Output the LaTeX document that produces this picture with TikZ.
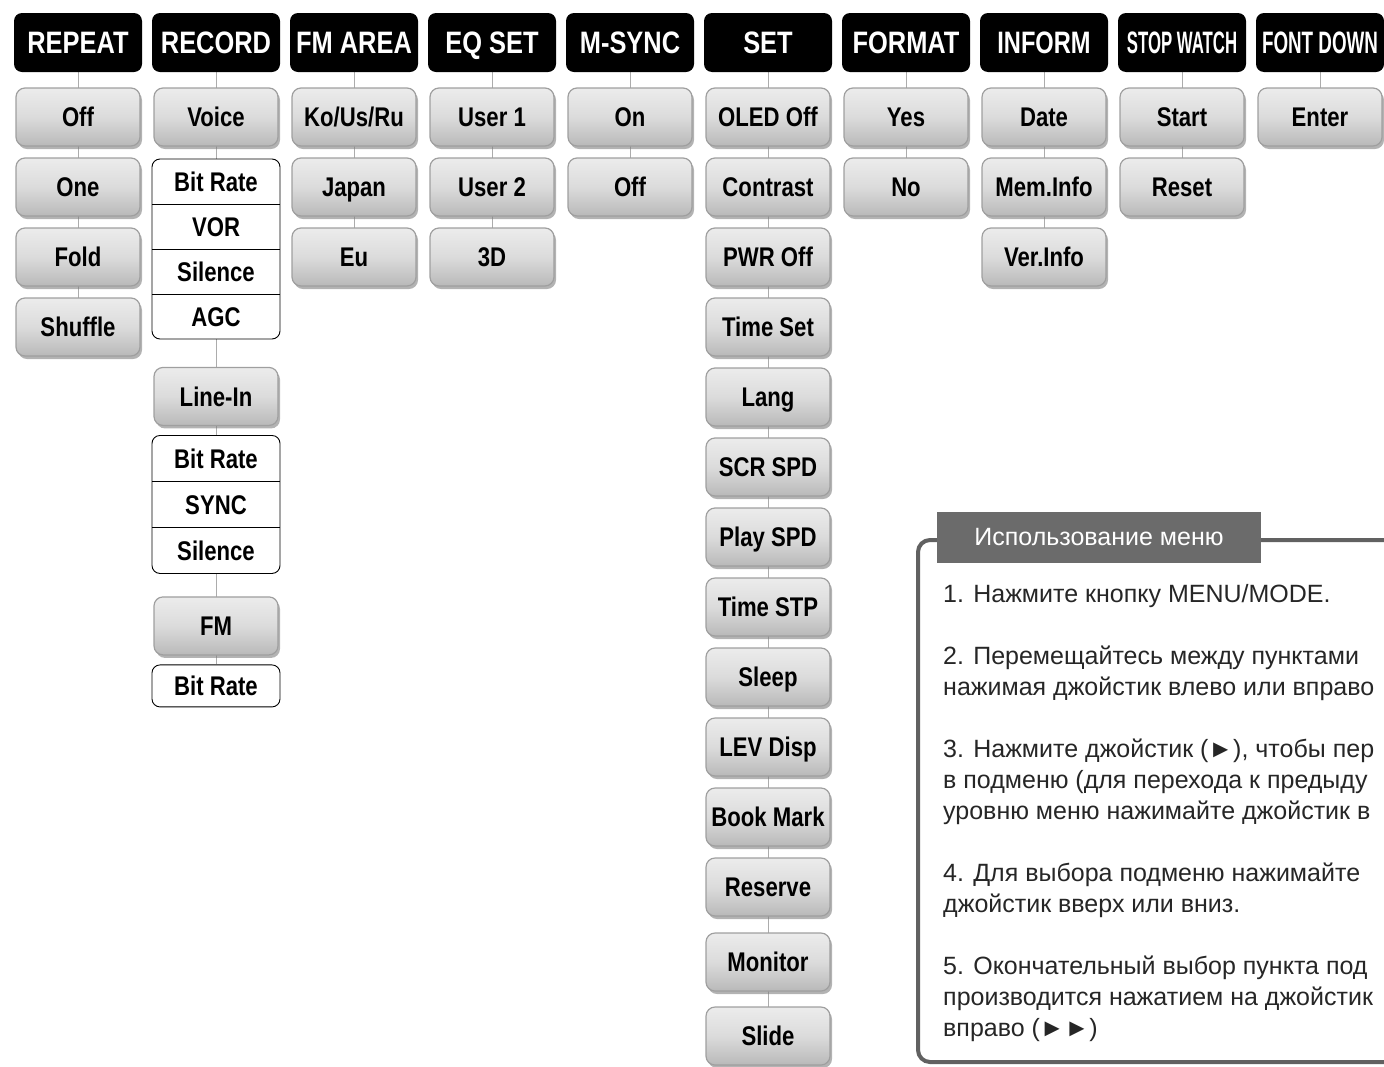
\documentclass[tikz,border=0pt]{standalone}
\usepackage{fontspec}
\setmainfont{Liberation Sans}
\newfontfamily\btnfont[FakeStretch=0.82]{Liberation Sans}
\usetikzlibrary{positioning,fit,backgrounds,shadows}

\begin{document}
\begin{tikzpicture}[x=1pt,y=1pt,
   hdr/.style={fill=black,rounded corners=8pt,minimum width=128pt,minimum height=59pt,inner sep=0pt,outer sep=0pt,
     text height=22pt,text depth=0pt,text=white,font=\btnfont\bfseries\fontsize{31}{31}\selectfont},
   btn/.style={draw=gray!75,line width=1.2pt,rounded corners=9pt,top color=gray!15,bottom color=gray!55,
     middle color=gray!28,minimum width=124pt,minimum height=58pt,inner sep=0pt,outer sep=0pt,
     text height=19.5pt,text depth=0pt,font=\btnfont\bfseries\fontsize{27}{27}\selectfont,
     drop shadow={shadow xshift=2pt,shadow yshift=-3pt,fill=black!50,opacity=0.6}},
   item/.style={minimum width=128pt,minimum height=#1,inner sep=0pt,outer sep=0pt,
     text height=19.5pt,text depth=0pt,font=\btnfont\bfseries\fontsize{27}{27}\selectfont},
   item/.default=45pt,
   grp/.style={draw,rounded corners=8pt,inner sep=0pt,line width=0.9pt},
   link/.style={draw=gray!65,line width=0.9pt},
   frame/.style={draw=black!62,line width=4pt,rounded corners=12pt},
   node distance=12pt]

 \useasboundingbox (0,0) rectangle (1384,-1066);

 % header row
 \node[hdr] (hd_repeat) at (78,-42.5) {REPEAT};
 \node[hdr, right=10pt of hd_repeat] (hd_record) {RECORD};
 \node[hdr, right=10pt of hd_record] (hd_fmarea) {FM AREA};
 \node[hdr, right=10pt of hd_fmarea] (hd_eqset) {EQ SET};
 \node[hdr, right=10pt of hd_eqset] (hd_msync) {M-SYNC};
 \node[hdr, right=10pt of hd_msync] (hd_set) {SET};
 \node[hdr, right=10pt of hd_set] (hd_format) {FORMAT};
 \node[hdr, right=10pt of hd_format] (hd_inform) {\scalebox{0.93}[1]{INFORM}};
 \node[hdr, right=10pt of hd_inform] (hd_stopwatch) {\scalebox{0.66}[1]{STOP WATCH}};
 \node[hdr, right=10pt of hd_stopwatch] (hd_fontdown) {\scalebox{0.74}[1]{FONT DOWN}};

 % REPEAT
 \node[btn, below=16pt of hd_repeat] (rp_off) {Off};
 \node[btn, below=of rp_off] (rp_one) {One};
 \node[btn, below=of rp_one] (rp_fold) {Fold};
 \node[btn, below=of rp_fold] (rp_shuffle) {Shuffle};

 % RECORD
 \node[btn, below=16pt of hd_record] (rc_voice) {Voice};
 \node[item, below=13pt of rc_voice] (rc_v_bitrate) {Bit Rate};
 \node[item, below=0pt of rc_v_bitrate] (rc_v_vor) {VOR};
 \node[item, below=0pt of rc_v_vor] (rc_v_silence) {Silence};
 \node[item, below=0pt of rc_v_silence] (rc_v_agc) {AGC};
 \node[grp, fit=(rc_v_bitrate)(rc_v_agc)] (rc_grp_voice) {};
 \draw (rc_v_bitrate.south west) -- (rc_v_bitrate.south east);
 \draw (rc_v_vor.south west) -- (rc_v_vor.south east);
 \draw (rc_v_silence.south west) -- (rc_v_silence.south east);

 \node[btn, below=28pt of rc_grp_voice] (rc_linein) {Line-In};
 \node[item=46pt, below=10pt of rc_linein] (rc_l_bitrate) {Bit Rate};
 \node[item=46pt, below=0pt of rc_l_bitrate] (rc_l_sync) {SYNC};
 \node[item=46pt, below=0pt of rc_l_sync] (rc_l_silence) {Silence};
 \node[grp, fit=(rc_l_bitrate)(rc_l_silence)] (rc_grp_linein) {};
 \draw (rc_l_bitrate.south west) -- (rc_l_bitrate.south east);
 \draw (rc_l_sync.south west) -- (rc_l_sync.south east);

 \node[btn, below=23pt of rc_grp_linein] (rc_fm) {FM};
 \node[item=42pt, below=10pt of rc_fm] (rc_f_bitrate) {Bit Rate};
 \node[grp, fit=(rc_f_bitrate)] (rc_grp_fm) {};

 % FM AREA
 \node[btn, below=16pt of hd_fmarea] (fa_kousru) {Ko/Us/Ru};
 \node[btn, below=of fa_kousru] (fa_japan) {Japan};
 \node[btn, below=of fa_japan] (fa_eu) {Eu};

 % EQ SET
 \node[btn, below=16pt of hd_eqset] (eq_user1) {User 1};
 \node[btn, below=of eq_user1] (eq_user2) {User 2};
 \node[btn, below=of eq_user2] (eq_3d) {3D};

 % M-SYNC
 \node[btn, below=16pt of hd_msync] (ms_on) {On};
 \node[btn, below=of ms_on] (ms_off) {Off};

 % SET
 \node[btn, below=16pt of hd_set] (st_oled) {OLED Off};
 \node[btn, below=of st_oled] (st_contrast) {Contrast};
 \node[btn, below=of st_contrast] (st_pwroff) {PWR Off};
 \node[btn, below=of st_pwroff] (st_timeset) {Time Set};
 \node[btn, below=of st_timeset] (st_lang) {Lang};
 \node[btn, below=of st_lang] (st_scrspd) {SCR SPD};
 \node[btn, below=of st_scrspd] (st_playspd) {Play SPD};
 \node[btn, below=of st_playspd] (st_timestp) {Time STP};
 \node[btn, below=of st_timestp] (st_sleep) {Sleep};
 \node[btn, below=of st_sleep] (st_levdisp) {LEV Disp};
 \node[btn, below=of st_levdisp] (st_bookmark) {Book Mark};
 \node[btn, below=of st_bookmark] (st_reserve) {Reserve};
 \node[btn, below=17pt of st_reserve] (st_monitor) {Monitor};
 \node[btn, below=16pt of st_monitor] (st_slide) {Slide};

 % FORMAT, INFORM, STOP WATCH, FONT DOWN
 \node[btn, below=16pt of hd_format] (fm_yes) {Yes};
 \node[btn, below=of fm_yes] (fm_no) {No};
 \node[btn, below=16pt of hd_inform] (in_date) {Date};
 \node[btn, below=of in_date] (in_meminfo) {Mem.Info};
 \node[btn, below=of in_meminfo] (in_verinfo) {Ver.Info};
 \node[btn, below=16pt of hd_stopwatch] (sw_start) {Start};
 \node[btn, below=of sw_start] (sw_reset) {Reset};
 \node[btn, below=16pt of hd_fontdown] (fd_enter) {Enter};

 \begin{scope}[on background layer]
  \draw[link] (hd_repeat) -- (rp_off) -- (rp_one) -- (rp_fold) -- (rp_shuffle);
  \draw[link] (hd_record) -- (rc_voice) -- (rc_grp_voice) -- (rc_linein) -- (rc_grp_linein)
              -- (rc_fm) -- (rc_grp_fm);
  \draw[link] (hd_fmarea) -- (fa_kousru) -- (fa_japan) -- (fa_eu);
  \draw[link] (hd_eqset) -- (eq_user1) -- (eq_user2) -- (eq_3d);
  \draw[link] (hd_msync) -- (ms_on) -- (ms_off);
  \draw[link] (hd_set) -- (st_oled) -- (st_contrast) -- (st_pwroff) -- (st_timeset) -- (st_lang)
              -- (st_scrspd) -- (st_playspd) -- (st_timestp) -- (st_sleep) -- (st_levdisp)
              -- (st_bookmark) -- (st_reserve) -- (st_monitor) -- (st_slide);
  \draw[link] (hd_format) -- (fm_yes) -- (fm_no);
  \draw[link] (hd_inform) -- (in_date) -- (in_meminfo) -- (in_verinfo);
  \draw[link] (hd_stopwatch) -- (sw_start) -- (sw_reset);
  \draw[link] (hd_fontdown) -- (fd_enter);
 \end{scope}

 % menu usage panel
 \draw[frame] (1386,-540) -- (918,-540) -- (918,-1062) -- (1386,-1062);
 \node[fill=black!58,text=white,minimum width=324pt,minimum height=51pt,inner sep=0pt,
       font=\fontsize{25}{25}\selectfont] (menu_title) at (1099,-537) {Использование меню};
 \node[anchor=north west,align=left,inner sep=0pt,text=black!85,font=\fontsize{25}{31}\selectfont]
   (menu_text) at (943,-584) {1. Нажмите кнопку MENU/MODE.\\[31pt]
   2. Перемещайтесь между пунктами\\
   нажимая джойстик влево или вправо\\[31pt]
   3. Нажмите джойстик (►), чтобы пер\\
   в подменю (для перехода к предыду\\
   уровню меню нажимайте джойстик в\\[31pt]
   4. Для выбора подменю нажимайте\\
   джойстик вверх или вниз.\\[31pt]
   5. Окончательный выбор пункта под\\
   производится нажатием на джойстик\\
   вправо (►►)};

\end{tikzpicture}
\end{document}
